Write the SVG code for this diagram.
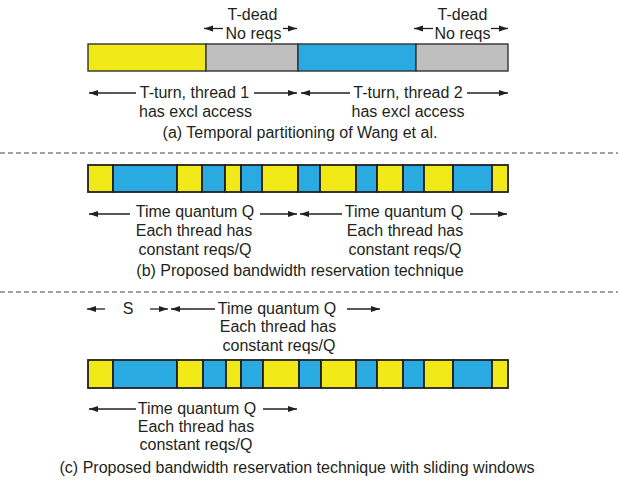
<svg xmlns="http://www.w3.org/2000/svg" width="618" height="480" viewBox="0 0 618 480">
<style>
text{font-family:"Liberation Sans",Arial,sans-serif;font-size:16px;fill:#231f20;text-anchor:middle}
.y{fill:#f2ea18}.b{fill:#29abe2}.g{fill:#bfbfbf}
.bar rect{stroke:#231f20;stroke-width:1.8}
.barA rect{stroke:#333;stroke-width:1.4}
.arr line{stroke:#231f20;stroke-width:1.3;marker-end:url(#ah)}
.dash{stroke:#444;stroke-width:1.2;stroke-dasharray:5 3}
</style>
<defs>
<marker id="ah" markerUnits="userSpaceOnUse" markerWidth="9" markerHeight="7" refX="9" refY="3.5" orient="auto">
<path d="M0,0.5 L9,3.5 L0,6.5 z" fill="#231f20"/>
</marker>
</defs>
<rect width="618" height="480" fill="#fff"/>

<g id="barA" class="barA">
<rect class="y" x="88" y="44" width="118" height="27"/>
<rect class="g" x="206" y="44" width="92" height="27"/>
<rect class="b" x="298" y="44" width="118" height="27"/>
<rect class="g" x="416" y="44" width="92" height="27"/>
</g>

<g id="labelsA">
<text x="252.5" y="20">T-dead</text>
<text x="253.5" y="39">No reqs</text>
<text x="462.5" y="20">T-dead</text>
<text x="462.5" y="39">No reqs</text>
<text x="194.5" y="98">T-turn, thread 1</text>
<text x="195.5" y="117">has excl access</text>
<text x="408" y="98">T-turn, thread 2</text>
<text x="408" y="117">has excl access</text>
<text x="300" y="138">(a) Temporal partitioning of Wang et al.</text>
</g>

<line class="dash" x1="0" y1="153" x2="618" y2="153"/>

<g id="barB" class="bar">
<rect class="y" x="88" y="165" width="25" height="27"/>
<rect class="b" x="113" y="165" width="64" height="27"/>
<rect class="y" x="177" y="165" width="25" height="27"/>
<rect class="b" x="202" y="165" width="23" height="27"/>
<rect class="y" x="225" y="165" width="16" height="27"/>
<rect class="b" x="241" y="165" width="21" height="27"/>
<rect class="y" x="262" y="165" width="36" height="27"/>
<rect class="b" x="298" y="165" width="22" height="27"/>
<rect class="y" x="320" y="165" width="36" height="27"/>
<rect class="b" x="356" y="165" width="21" height="27"/>
<rect class="y" x="377" y="165" width="26" height="27"/>
<rect class="b" x="403" y="165" width="21" height="27"/>
<rect class="y" x="424" y="165" width="29" height="27"/>
<rect class="b" x="453" y="165" width="39" height="27"/>
<rect class="y" x="492" y="165" width="16" height="27"/>
</g>

<g id="labelsB">
<text x="195" y="217">Time quantum Q</text>
<text x="194" y="236">Each thread has</text>
<text x="195" y="255">constant reqs/Q</text>
<text x="404" y="217">Time quantum Q</text>
<text x="405" y="236">Each thread has</text>
<text x="405" y="255">constant reqs/Q</text>
<text x="300" y="276">(b) Proposed bandwidth reservation technique</text>
</g>

<line class="dash" x1="0" y1="292" x2="618" y2="292"/>

<g id="labelsCtop">
<text x="128" y="314">S</text>
<text x="277" y="314">Time quantum Q</text>
<text x="278" y="332">Each thread has</text>
<text x="279" y="351">constant reqs/Q</text>
</g>

<g id="barC" class="bar">
<rect class="y" x="88" y="360" width="25" height="28"/>
<rect class="b" x="113" y="360" width="64" height="28"/>
<rect class="y" x="177" y="360" width="26" height="28"/>
<rect class="b" x="203" y="360" width="23" height="28"/>
<rect class="y" x="226" y="360" width="15" height="28"/>
<rect class="b" x="241" y="360" width="22" height="28"/>
<rect class="y" x="263" y="360" width="36" height="28"/>
<rect class="b" x="299" y="360" width="22" height="28"/>
<rect class="y" x="321" y="360" width="35" height="28"/>
<rect class="b" x="356" y="360" width="21" height="28"/>
<rect class="y" x="377" y="360" width="26" height="28"/>
<rect class="b" x="403" y="360" width="21" height="28"/>
<rect class="y" x="424" y="360" width="29" height="28"/>
<rect class="b" x="453" y="360" width="39" height="28"/>
<rect class="y" x="492" y="360" width="16" height="28"/>
</g>

<g id="labelsCbottom">
<text x="197" y="414">Time quantum Q</text>
<text x="196" y="432">Each thread has</text>
<text x="196" y="450">constant reqs/Q</text>
<text x="297" y="473">(c) Proposed bandwidth reservation technique with sliding windows</text>
</g>

<g id="connectors" class="arr">
<line x1="223" y1="28.5" x2="204" y2="28.5"/>
<line x1="283" y1="28.5" x2="297" y2="28.5"/>
<line x1="433" y1="28.5" x2="414" y2="28.5"/>
<line x1="491" y1="28.5" x2="508" y2="28.5"/>
<line x1="136" y1="93" x2="89" y2="93"/>
<line x1="254" y1="93" x2="297" y2="93"/>
<line x1="350" y1="93" x2="301" y2="93"/>
<line x1="467" y1="93" x2="508" y2="93"/>
<line x1="130" y1="214" x2="89" y2="214"/>
<line x1="260" y1="214" x2="297" y2="214"/>
<line x1="342" y1="214" x2="300" y2="214"/>
<line x1="470" y1="214" x2="507" y2="214"/>
<line x1="105" y1="309" x2="87" y2="309"/>
<line x1="150" y1="309" x2="168" y2="309"/>
<line x1="215" y1="309" x2="171" y2="309"/>
<line x1="347" y1="309" x2="380" y2="309"/>
<line x1="136" y1="409" x2="89" y2="409"/>
<line x1="263" y1="409" x2="297" y2="409"/>
</g>
</svg>
